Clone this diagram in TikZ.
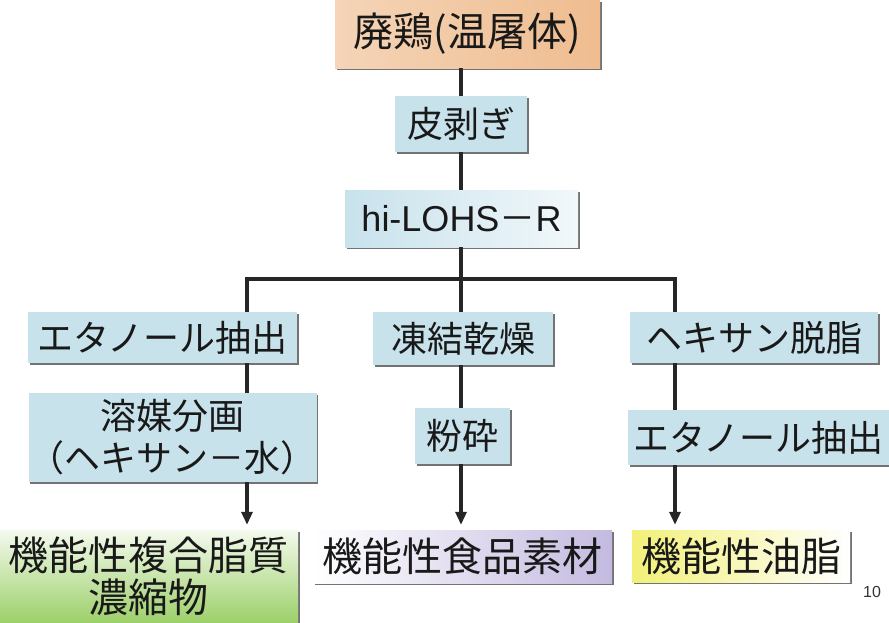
\documentclass[tikz,border=0pt]{standalone}
\usepackage{fontspec}
\setmainfont{Noto Sans CJK JP}
\newfontfamily\latin{Liberation Sans}
\usetikzlibrary{shadows,arrows.meta}
\definecolor{boxblue}{RGB}{200,226,236}
\definecolor{toporange}{RGB}{232,160,96}
\definecolor{lgreen}{RGB}{140,200,80}
\definecolor{lav}{RGB}{196,186,224}
\definecolor{lyel}{RGB}{242,240,120}
\tikzset{
  box/.style={draw=none, inner sep=0pt, align=center, text=black!90,
    font=\fontsize{36}{42}\selectfont,
    drop shadow={shadow xshift=1.5pt,shadow yshift=-1.5pt,fill=black!55,opacity=1}},
  bluebox/.style={box, fill=boxblue},
  bigtext/.style={font=\fontsize{40}{42}\selectfont},
  conn/.style={line width=3.2pt, draw=black!85},
  arr/.style={conn, -{Triangle[length=13pt,width=11pt]}, shorten >=5pt},
}
\begin{document}
\begin{tikzpicture}[x=1pt,y=-1pt]
\useasboundingbox (0,0) rectangle (889,622);
% nodes
\node[box, bigtext, left color=toporange!45!white, middle color=white, right color=toporange!70!white,
      minimum width=265pt, minimum height=68pt] (top) at (467.5,34) {廃鶏(温屠体)};
\node[bluebox, minimum width=132pt, minimum height=56pt] (peel) at (461,124) {皮剥ぎ};
\node[box, left color=boxblue, right color=boxblue!25!white,
      minimum width=233pt, minimum height=57pt] (hilohs) at (461.5,218.5) {{\latin hi-LOHS}－{\latin R}};
\node[bluebox, minimum width=269pt, minimum height=51pt] (eth1) at (162.5,337.5) {エタノール抽出};
\node[bluebox, minimum width=180pt, minimum height=53pt] (freeze) at (463,338.5) {凍結乾燥};
\node[bluebox, minimum width=248pt, minimum height=51pt] (hex) at (754,337.5) {ヘキサン脱脂};
\node[bluebox, minimum width=249pt, minimum height=89pt] (solv) at (172.5,437.5) {溶媒分画\\（ヘキサン－水）};
\node[bluebox, minimum width=95pt, minimum height=56pt] (grind) at (462.5,436) {粉砕};
\node[bluebox, minimum width=261pt, minimum height=55pt] (eth2) at (758.5,437.5) {エタノール抽出};
\node[box, bigtext, top color=white!90!lgreen, bottom color=lgreen!85!white,
      minimum width=298pt, minimum height=92pt] (lipid) at (149,576) {機能性複合脂質\\濃縮物};
\node[box, bigtext, left color=white, right color=lav,
      minimum width=299pt, minimum height=53pt] (food) at (462.5,556.5) {機能性食品素材};
\node[box, bigtext, left color=lyel, right color=white,
      minimum width=218pt, minimum height=52pt] (oil) at (741,556) {機能性油脂};
\node[font=\latin\fontsize{16}{16}\selectfont, text=black!80] (pg) at (872,592) {10};
% connectors
\coordinate (j) at (461,279);
\coordinate (jl) at (247,279);
\coordinate (jr) at (675,279);
\draw[conn] (top.south -| j) -- (peel.north -| j);
\draw[conn] (peel.south -| j) -- (hilohs.north -| j);
\draw[conn] (hilohs.south -| j) -- (j);
\draw[conn, line cap=rect] (jl) -- (jr);
\draw[conn] (jl) -- (eth1.north -| jl);
\draw[conn] (j) -- (freeze.north -| j);
\draw[conn] (jr) -- (hex.north -| jr);
\draw[conn] (eth1.south -| jl) -- (solv.north -| jl);
\draw[conn] (freeze.south -| j) -- (grind.north -| j);
\draw[conn] (hex.south -| jr) -- (eth2.north -| jr);
\draw[arr] (solv.south -| jl) -- (lipid.north -| jl);
\draw[arr] (grind.south -| j) -- (food.north -| j);
\draw[arr] (eth2.south -| jr) -- (oil.north -| jr);
\end{tikzpicture}
\end{document}
